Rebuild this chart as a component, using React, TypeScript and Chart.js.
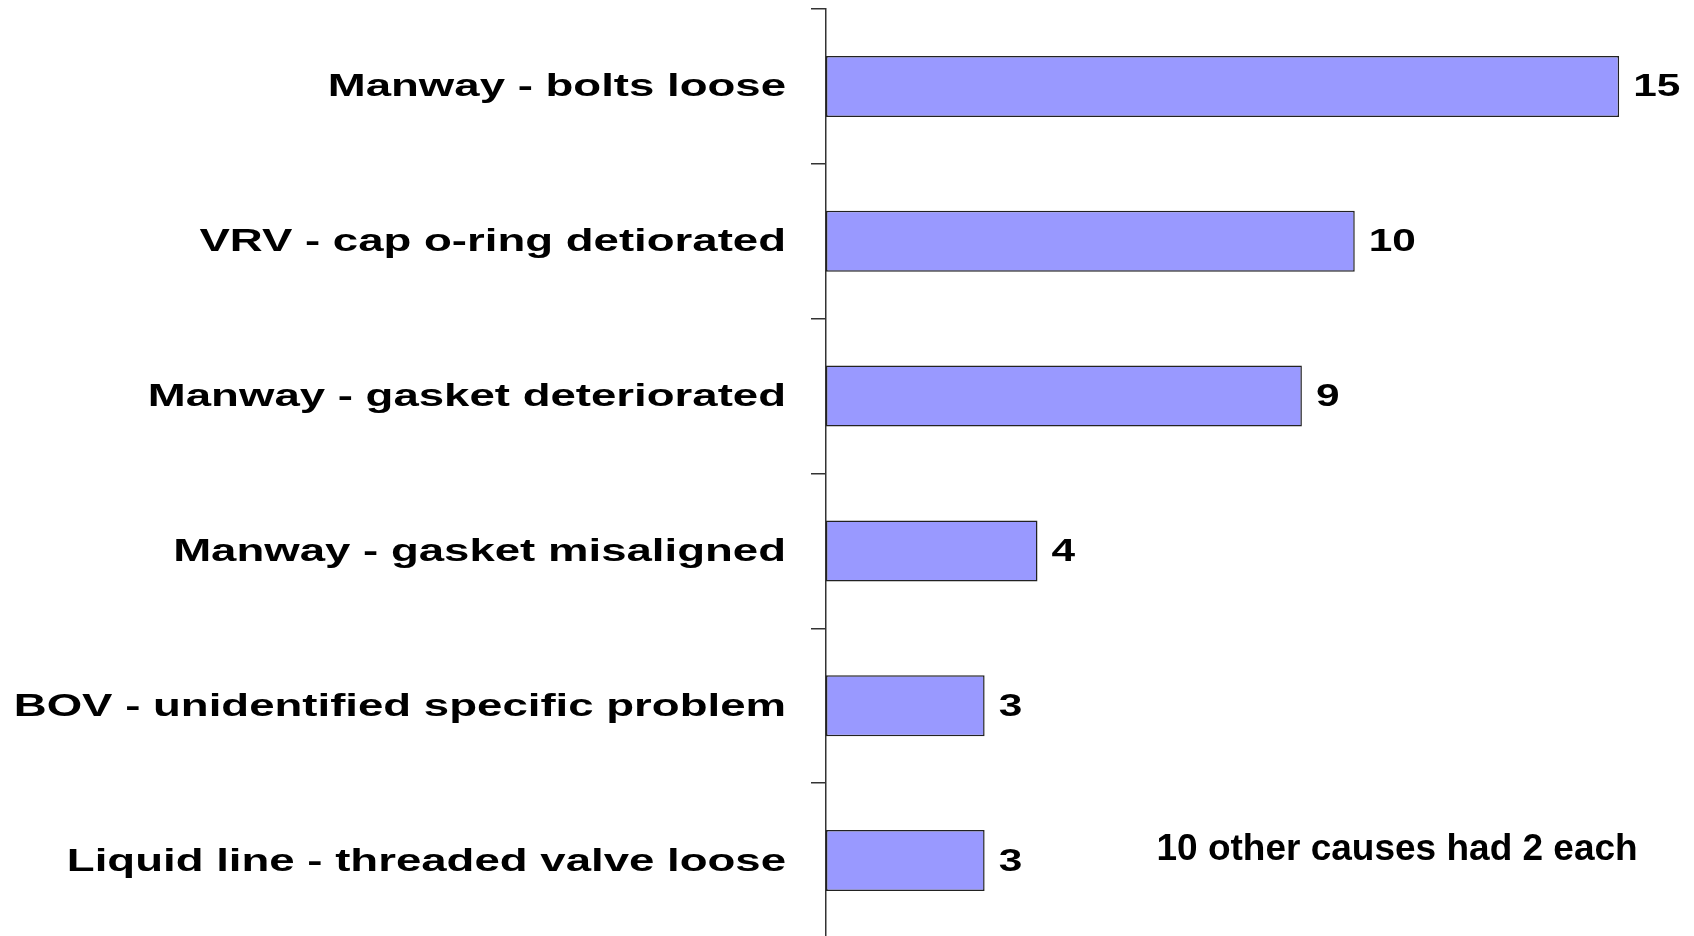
import React, { useEffect, useRef } from "react";
import { Chart, registerables } from "chart.js";

Chart.register(...registerables);

const categories = [
  "Manway - bolts loose",
  "VRV - cap o-ring detiorated",
  "Manway - gasket deteriorated",
  "Manway - gasket misaligned",
  "BOV - unidentified specific problem",
  "Liquid line - threaded valve loose",
];
const counts = [15, 10, 9, 4, 3, 3];
const noteText = "10 other causes had 2 each";
const xMax = 16;

const LABEL_FONT = 31;
const STRETCH = 1.47;
const FONT_FAMILY = '"Liberation Sans", Arial, sans-serif';

const textPlugin = {
  id: "stretchedText",
  afterDatasetsDraw(chart: any) {
    const { ctx, scales } = chart;
    const x = scales.x;
    const y = scales.y;
    ctx.save();
    ctx.fillStyle = "#000";
    ctx.font = `bold ${LABEL_FONT}px ${FONT_FAMILY}`;
    ctx.textBaseline = "alphabetic";
    categories.forEach((label, i) => {
      const cy = y.getPixelForValue(i);
      ctx.save();
      ctx.translate(y.right - 40, cy + 10);
      ctx.scale(STRETCH, 1);
      ctx.textAlign = "right";
      ctx.fillText(label, 0, 0);
      ctx.restore();

      const xe = x.getPixelForValue(counts[i]);
      ctx.save();
      ctx.translate(xe + 14, cy + 10);
      ctx.scale(STRETCH * 0.93, 1);
      ctx.textAlign = "left";
      ctx.fillText(String(counts[i]), 0, 0);
      ctx.restore();
    });
    ctx.font = `bold 37px ${FONT_FAMILY}`;
    ctx.textAlign = "left";
    ctx.fillText(
      noteText,
      x.getPixelForValue(6.25),
      y.getPixelForValue(categories.length - 1) - 1
    );
    ctx.restore();
  },
};

export default function App() {
  const ref = useRef<HTMLCanvasElement | null>(null);
  useEffect(() => {
    if (!ref.current) return;
    const chart = new Chart(ref.current, {
      type: "bar",
      data: {
        labels: categories,
        datasets: [
          {
            data: counts,
            backgroundColor: "#9999FF",
            borderColor: "#222",
            borderWidth: 1.5,
            borderSkipped: false,
            categoryPercentage: 1,
            barPercentage: 0.394,
          },
        ],
      },
      options: {
        indexAxis: "y",
        animation: false,
        responsive: false,
        devicePixelRatio: 1,
        layout: { padding: { left: 811, top: 9, bottom: 7, right: 22 } },
        plugins: {
          legend: { display: false },
          tooltip: { enabled: false },
        },
        scales: {
          x: { display: false, min: 0, max: xMax },
          y: {
            display: true,
            offset: true,
            ticks: { display: false },
            grid: {
              offset: true,
              drawOnChartArea: false,
              drawTicks: true,
              tickLength: 15,
              color: "#333",
              lineWidth: 1.5,
            },
            border: { display: true, color: "#333", width: 1.5 },
          },
        },
      },
      plugins: [textPlugin],
    });
    return () => chart.destroy();
  }, []);
  return (
    <div
      style={{
        position: "fixed",
        left: 0,
        top: 0,
        width: 1694,
        height: 936,
        overflow: "hidden",
        background: "#fff",
      }}
    >
      <canvas ref={ref} width={1694} height={945} style={{ display: "block" }} />
    </div>
  );
}
